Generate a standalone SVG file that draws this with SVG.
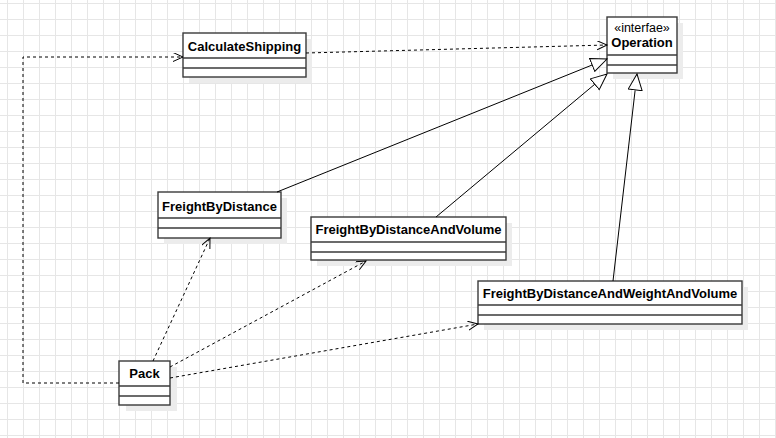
<svg xmlns="http://www.w3.org/2000/svg" width="776" height="438" viewBox="0 0 776 438">
  <defs>
    <pattern id="grid" x="7" y="3" width="16" height="16" patternUnits="userSpaceOnUse">
      <path d="M0.5,0 V16 M0,0.5 H16" fill="none" stroke="#e6e6e6" stroke-width="1"/>
    </pattern>
    <!-- open arrowhead for dependencies -->
    <marker id="open" markerUnits="userSpaceOnUse" markerWidth="12" markerHeight="11" refX="10" refY="4.5" orient="auto">
      <path d="M0,0 L10,4.5 L0,9" fill="none" stroke="#000" stroke-width="1"/>
    </marker>
    <!-- hollow triangle for realizations -->
    <marker id="tri" markerUnits="userSpaceOnUse" markerWidth="18" markerHeight="16" refX="16.5" refY="7.5" orient="auto">
      <path d="M0.5,0.5 L16.5,7.5 L0.5,14.5 Z" fill="#fff" stroke="#000" stroke-width="1"/>
    </marker>
  </defs>
  <style>
    .shadow { fill: #ececec; }
    .box { fill: #fff; stroke: #3a3a3a; stroke-width: 1.4; }
    .sep { stroke: #3a3a3a; stroke-width: 1.4; }
    .name { font-family: "Liberation Sans", Arial, sans-serif; font-size: 13px; font-weight: bold; fill: #000; text-anchor: middle; }
    .stereo { font-family: "Liberation Sans", Arial, sans-serif; font-size: 12.5px; fill: #000; text-anchor: middle; }
    .dep { fill: none; stroke: #000; stroke-width: 1; stroke-dasharray: 3 3; marker-end: url(#open); }
    .real { fill: none; stroke: #000; stroke-width: 1; marker-end: url(#tri); }
  </style>

  <rect width="776" height="438" fill="#fff"/>
  <rect width="776" height="438" fill="url(#grid)"/>

  <!-- classes -->
  <g id="CalculateShipping">
    <rect class="shadow" x="189" y="39" width="123" height="44"/>
    <rect class="box" x="183" y="33" width="123" height="44"/>
    <line class="sep" x1="183" y1="58" x2="306" y2="58"/>
    <line class="sep" x1="183" y1="68" x2="306" y2="68"/>
    <text class="name" x="244.5" y="50.5">CalculateShipping</text>
  </g>

  <g id="Operation">
    <rect class="shadow" x="613" y="23" width="70" height="56"/>
    <rect class="box" x="607" y="17" width="70" height="56"/>
    <line class="sep" x1="607" y1="55" x2="677" y2="55"/>
    <line class="sep" x1="607" y1="65" x2="677" y2="65"/>
    <text class="stereo" x="642" y="31.5">«interfae»</text>
    <text class="name" x="642" y="46.5">Operation</text>
  </g>

  <g id="FreightByDistance">
    <rect class="shadow" x="164" y="198" width="123" height="46"/>
    <rect class="box" x="158" y="192" width="123" height="46"/>
    <line class="sep" x1="158" y1="218" x2="281" y2="218"/>
    <line class="sep" x1="158" y1="228" x2="281" y2="228"/>
    <text class="name" x="219.5" y="210.5">FreightByDistance</text>
  </g>

  <g id="FreightByDistanceAndVolume">
    <rect class="shadow" x="317" y="223" width="195" height="43"/>
    <rect class="box" x="311" y="217" width="195" height="43"/>
    <line class="sep" x1="311" y1="242" x2="506" y2="242"/>
    <line class="sep" x1="311" y1="252" x2="506" y2="252"/>
    <text class="name" x="408.5" y="233.5">FreightByDistanceAndVolume</text>
  </g>

  <g id="FreightByDistanceAndWeightAndVolume">
    <rect class="shadow" x="484" y="287" width="264" height="43"/>
    <rect class="box" x="478" y="281" width="264" height="43"/>
    <line class="sep" x1="478" y1="305" x2="742" y2="305"/>
    <line class="sep" x1="478" y1="315" x2="742" y2="315"/>
    <text class="name" x="610" y="297.5">FreightByDistanceAndWeightAndVolume</text>
  </g>

  <g id="Pack">
    <rect class="shadow" x="126" y="367" width="51" height="44"/>
    <rect class="box" x="119" y="361" width="51" height="44"/>
    <line class="sep" x1="119" y1="386" x2="170" y2="386"/>
    <line class="sep" x1="119" y1="396" x2="170" y2="396"/>
    <text class="name" x="144.5" y="378">Pack</text>
  </g>

  <!-- relationships -->
  <g id="connectors">
    <path class="dep" d="M306,53 L607,45"/>
    <path class="dep" d="M119,383 L23,383 L23,57 L183,57"/>
    <path class="dep" d="M153,361 L210,238"/>
    <path class="dep" d="M170,367 L366,261"/>
    <path class="dep" d="M170,378 L478,324"/>
    <path class="real" d="M277,192 L607,59"/>
    <path class="real" d="M436,217 L607,74"/>
    <path class="real" d="M613,281 L637,74"/>
  </g>
</svg>
